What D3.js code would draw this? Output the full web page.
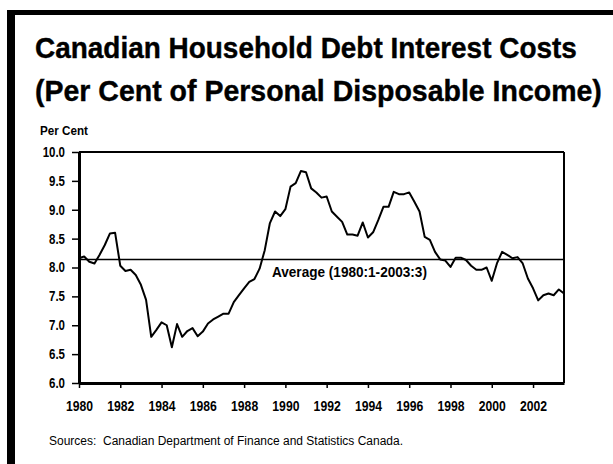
<!DOCTYPE html>
<html>
<head>
    <title>Canadian Household Debt Interest Costs</title>
    <script src="https://d3js.org/d3.v7.min.js"></script>
    <style>
        body { margin: 0; background: #fff; }
        text { font-family: "Liberation Sans", Arial, sans-serif; fill: #000; }
        .bold { font-weight: bold; }
    </style>
</head>
<body>
    <svg width="613" height="464"></svg>
    <script>
        // quarterly values, 1980:1 to 2003:3
        var startYear = 1980;
        var values = [
            8.16, 8.19, 8.10, 8.07,   // 1980
            8.22, 8.39, 8.59, 8.60,   // 1981
            8.03, 7.94, 7.96, 7.87,   // 1982
            7.70, 7.44, 6.80, 6.92,   // 1983
            7.05, 7.00, 6.62, 7.02,   // 1984
            6.80, 6.90, 6.95, 6.81,   // 1985
            6.89, 7.03, 7.10, 7.15,   // 1986
            7.20, 7.20, 7.40, 7.52,   // 1987
            7.64, 7.75, 7.80, 7.98,   // 1988
            8.30, 8.77, 8.97, 8.89,   // 1989
            9.01, 9.40, 9.46, 9.67,   // 1990
            9.65, 9.37, 9.30, 9.21,   // 1991
            9.23, 8.97, 8.88, 8.79,   // 1992
            8.57, 8.57, 8.55, 8.78,   // 1993
            8.52, 8.61, 8.82, 9.05,   // 1994
            9.05, 9.31, 9.27, 9.27,   // 1995
            9.30, 9.14, 8.97, 8.53,   // 1996
            8.48, 8.27, 8.14, 8.12,   // 1997
            8.01, 8.17, 8.17, 8.13,   // 1998
            8.03, 7.96, 7.96, 8.00,   // 1999
            7.77, 8.07, 8.27, 8.22,   // 2000
            8.16, 8.18, 8.07, 7.81,   // 2001
            7.64, 7.43, 7.52, 7.55,   // 2002
            7.52, 7.62, 7.55          // 2003
        ];
        var average = 8.14;
        var xTicks = [1980, 1982, 1984, 1986, 1988, 1990, 1992, 1994, 1996, 1998, 2000, 2002];
        var yTicks = [6.0, 6.5, 7.0, 7.5, 8.0, 8.5, 9.0, 9.5, 10.0];
        var titleLines = ["Canadian Household Debt Interest Costs", "(Per Cent of Personal Disposable Income)"];
        var titleWidths = [542, 567];

        var data = values.map(function(v, i) { return { t: startYear + i / 4, v: v }; });

        // no condensed font installed, so squeeze the regular one
        function squeeze(sel, f) {
            sel.each(function() {
                var w = this.getComputedTextLength();
                d3.select(this).attr("textLength", w * f).attr("lengthAdjust", "spacingAndGlyphs");
            });
        }

        var svg = d3.select("svg");

        // heavy frame top and left
        svg.append("rect").attr("x", 7).attr("y", 10).attr("width", 606).attr("height", 5).attr("fill", "#000");
        svg.append("rect").attr("x", 7).attr("y", 10).attr("width", 8).attr("height", 454).attr("fill", "#000");

        // title: scale each line horizontally to the condensed width
        svg.selectAll(".title")
            .data(titleLines)
            .enter().append("text")
            .attr("class", "title bold")
            .attr("font-size", 30)
            .attr("stroke", "#000")
            .attr("stroke-width", 0.4)
            .text(function(d) { return d; })
            .each(function(d, i) {
                var w = this.getComputedTextLength();
                d3.select(this).attr("transform",
                    "translate(35," + (58 + i * 43) + ") scale(" + (titleWidths[i] / w) + ",1)");
            });

        var margin = {top: 152, right: 49, bottom: 81, left: 79},
            width = 613 - margin.left - margin.right,
            height = 464 - margin.top - margin.bottom;

        var x = d3.scaleLinear().domain([1980, 2003.5]).range([0, width]);
        var y = d3.scaleLinear().domain([6, 10]).range([height, 0]);

        var g = svg.append("g").attr("transform", "translate(" + margin.left + "," + margin.top + ")");

        // top and right border
        g.append("line").attr("x1", 0).attr("x2", width).attr("y1", 0).attr("y2", 0)
            .attr("stroke", "#000").attr("stroke-width", 2);
        g.append("line").attr("x1", width).attr("x2", width).attr("y1", 0).attr("y2", height)
            .attr("stroke", "#000").attr("stroke-width", 2);

        var xAxis = g.append("g")
            .attr("transform", "translate(0," + height + ")")
            .call(d3.axisBottom(x).tickValues(xTicks).tickFormat(d3.format("d")).tickSize(5).tickSizeOuter(0));
        xAxis.attr("font-family", null);
        xAxis.select(".domain").attr("stroke-width", 3);
        xAxis.selectAll(".tick line").attr("stroke-width", 1.5);
        xAxis.selectAll("text").attr("class", "bold").attr("font-size", 14.5).attr("dy", "1.35em")
            .call(squeeze, 0.84);

        var yAxis = g.append("g")
            .call(d3.axisLeft(y).tickValues(yTicks).tickFormat(d3.format(".1f")).tickSize(7).tickSizeOuter(0));
        yAxis.attr("font-family", null);
        yAxis.select(".domain").attr("stroke-width", 3);
        yAxis.selectAll(".tick line").attr("stroke-width", 1.5);
        yAxis.selectAll("text").attr("class", "bold").attr("font-size", 14).attr("x", -14)
            .call(squeeze, 0.82);

        // average line
        g.append("line")
            .attr("x1", 0).attr("x2", width)
            .attr("y1", y(average)).attr("y2", y(average))
            .attr("stroke", "#000").attr("stroke-width", 1.5);
        g.append("text")
            .attr("class", "bold")
            .attr("x", x(1989.35))
            .attr("y", y(average) + 18)
            .attr("font-size", 14.5)
            .attr("textLength", 155).attr("lengthAdjust", "spacingAndGlyphs")
            .text("Average (1980:1-2003:3)");

        var line = d3.line()
            .x(function(d) { return x(d.t); })
            .y(function(d) { return y(d.v); });

        g.append("path")
            .datum(data)
            .attr("fill", "none")
            .attr("stroke", "#000")
            .attr("stroke-width", 2)
            .attr("stroke-linejoin", "round")
            .attr("d", line);

        svg.append("text")
            .attr("class", "bold")
            .attr("x", 40).attr("y", 135)
            .attr("font-size", 13.5)
            .attr("textLength", 48).attr("lengthAdjust", "spacingAndGlyphs")
            .text("Per Cent");

        svg.append("text")
            .attr("x", 49).attr("y", 445)
            .attr("font-size", 12.5)
            .attr("xml:space", "preserve")
            .attr("textLength", 354).attr("lengthAdjust", "spacingAndGlyphs")
            .text("Sources:  Canadian Department of Finance and Statistics Canada.");
    </script>
</body>
</html>
